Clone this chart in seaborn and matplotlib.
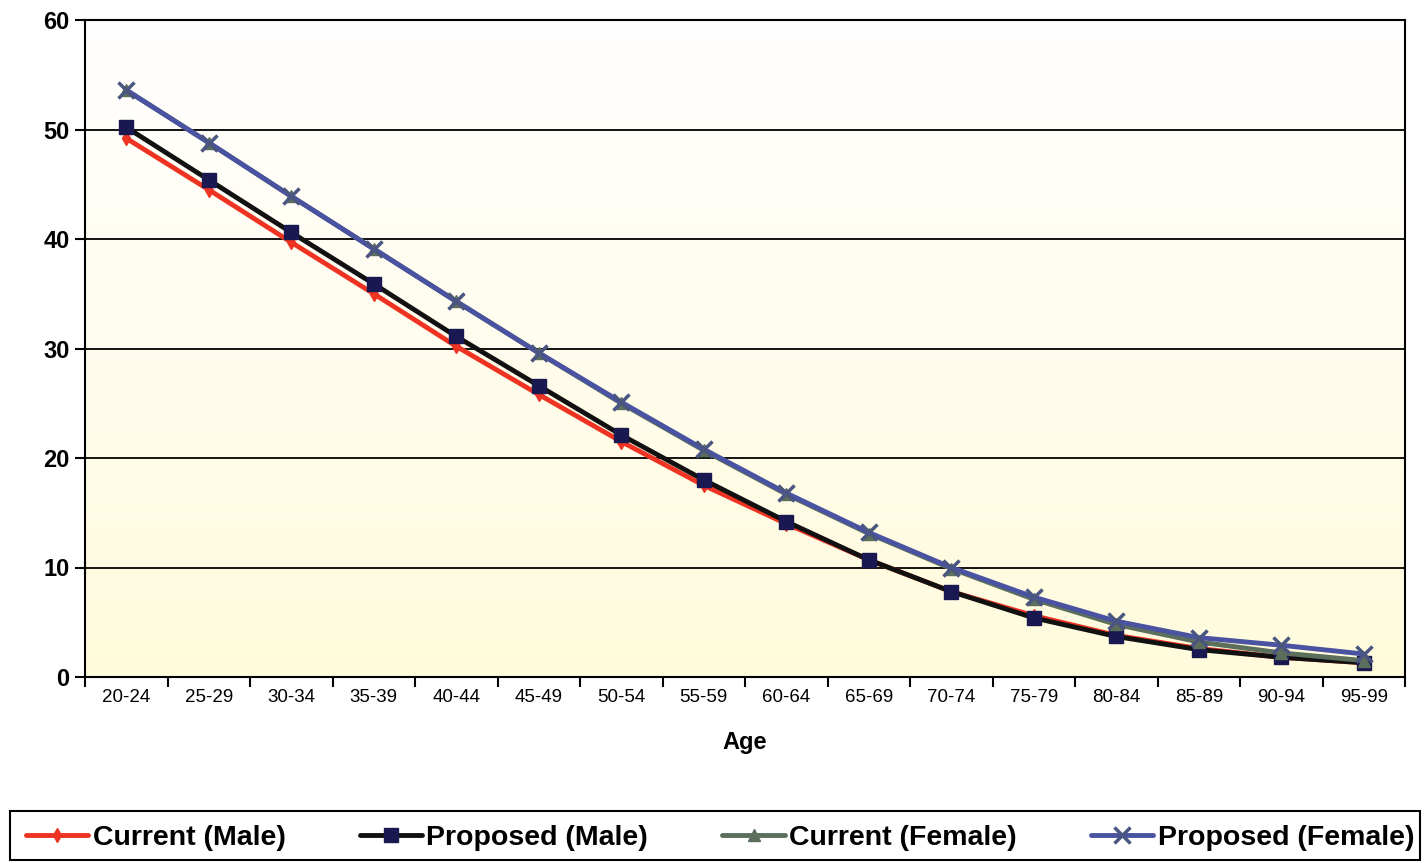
import numpy as np
import pandas as pd
import matplotlib
matplotlib.use("Agg")
import matplotlib.pyplot as plt
import seaborn as sns
from matplotlib.ticker import FixedLocator
from matplotlib.colors import LinearSegmentedColormap
from matplotlib.patches import Rectangle

ages = ["20-24", "25-29", "30-34", "35-39", "40-44", "45-49", "50-54", "55-59",
        "60-64", "65-69", "70-74", "75-79", "80-84", "85-89", "90-94", "95-99"]
current_male = [49.2, 44.5, 39.7, 35.0, 30.2, 25.8, 21.5, 17.5, 14.0, 10.7, 7.8, 5.6, 3.8, 2.6, 1.8, 1.3]
proposed_male = [50.2, 45.4, 40.6, 35.9, 31.1, 26.6, 22.1, 18.0, 14.2, 10.7, 7.8, 5.4, 3.7, 2.5, 1.8, 1.3]
current_female = [53.6, 48.8, 43.9, 39.1, 34.3, 29.6, 25.0, 20.7, 16.7, 13.1, 9.9, 7.1, 4.8, 3.2, 2.2, 1.5]
proposed_female = [53.6, 48.8, 43.9, 39.1, 34.3, 29.6, 25.1, 20.8, 16.8, 13.2, 10.0, 7.3, 5.1, 3.6, 2.9, 2.1]
series_names = ["Current (Male)", "Proposed (Male)", "Current (Female)", "Proposed (Female)"]

sns.set_style("white")
plt.rcParams['font.family'] = ['Liberation Sans', 'DejaVu Sans']
plt.rcParams['text.color'] = 'black'
plt.rcParams['axes.labelcolor'] = 'black'
plt.rcParams['xtick.color'] = 'black'
plt.rcParams['ytick.color'] = 'black'

fig = plt.figure(figsize=(14.27, 8.63), dpi=100)
ax = fig.add_axes([85/1427, 1-677/863, (1405-85)/1427, (677-20)/863])

# gradient background
grad = np.linspace(0, 1, 256).reshape(-1, 1)
cmap = LinearSegmentedColormap.from_list("bg", ["#fffbdc", "#ffffff"])
ax.imshow(grad, extent=[0, 1, 0, 1], transform=ax.transAxes, aspect='auto',
          cmap=cmap, origin='lower', zorder=0)

styles = [
    dict(color="#ee3322", marker="d", ms=7, mec="#ee3322", mfc="#ee3322"),
    dict(color="#111111", marker="s", ms=10, mec="#1a1850", mfc="#1a1850"),
    dict(color="#5c6e5c", marker="^", ms=9, mec="#5c6e5c", mfc="#5c6e5c"),
    dict(color="#4a52a2", marker="x", ms=12, mec="#4a5580", mfc="#4a5580", mew=2.5),
]
all_vals = [current_male, proposed_male, current_female, proposed_female]
x = np.arange(len(ages))
for name, vals, st in zip(series_names, all_vals, styles):
    df = pd.DataFrame({"x": x, "y": vals})
    sns.lineplot(data=df, x="x", y="y", ax=ax, label=name, color=st["color"], lw=3.5,
                 marker=st["marker"], markersize=st["ms"], markeredgecolor=st["mec"],
                 markerfacecolor=st["mfc"], markeredgewidth=st.get("mew", 1), zorder=3)

ax.set_xlim(-0.5, len(ages) - 0.5)
ax.set_ylim(0, 60)
ax.set_yticks(range(0, 61, 10))
ax.set_yticklabels([str(v) for v in range(0, 61, 10)], fontsize=17, fontweight='bold')
ax.yaxis.grid(True, color="black", lw=1.3)
for gl in ax.get_ygridlines():
    gl.set_zorder(1)
ax.set_xticks(x)
ax.set_xticklabels(ages, fontsize=13.5)
ax.xaxis.set_minor_locator(FixedLocator(np.arange(-0.5, len(ages), 1)))
ax.tick_params(axis='x', which='major', length=0, pad=9)
ax.tick_params(axis='x', which='minor', length=7, width=1.5, color='black', direction='out')
ax.tick_params(axis='y', which='major', length=7, width=1.5, color='black', direction='out', pad=4)
ax.xaxis.set_ticks_position('bottom')
ax.yaxis.set_ticks_position('left')
for sp in ax.spines.values():
    sp.set_color("black")
    sp.set_linewidth(1.5)
ax.set_xlabel("Age", fontsize=17, fontweight='bold', labelpad=18)
ax.set_ylabel("")

handles, labels = ax.get_legend_handles_labels()
ax.get_legend().remove()
fig.patches.append(Rectangle((10/1427, 3/863), 1410/1427, 49/863, transform=fig.transFigure,
                             fill=False, edgecolor='black', lw=1.5))
leg = fig.legend(handles, labels, loc='center', ncol=4,
                 bbox_to_anchor=(720/1427, 1-838/863),
                 frameon=False, prop={'weight': 'bold', 'size': 20.5}, handlelength=2.2,
                 handletextpad=0.15, columnspacing=2.6, borderaxespad=0)

fig.savefig("out.png", dpi=100, facecolor="white")
